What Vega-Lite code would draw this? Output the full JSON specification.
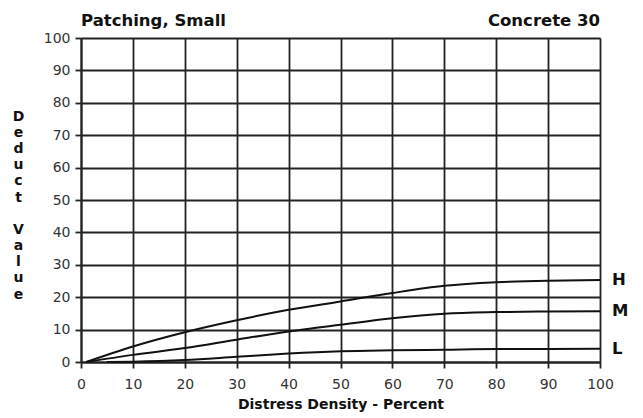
{
  "$schema": "https://vega.github.io/schema/vega-lite/v6.json",
  "width": 519,
  "height": 324,
  "autosize": {"type": "none"},
  "padding": {"left": 81, "top": 38, "right": 43, "bottom": 56},
  "background": "white",
  "config": {
    "view": {"stroke": null},
    "font": "DejaVu Sans",
    "axis": {
      "tickCount": 10,
      "labelFont": "DejaVu Sans", "labelFontSize": 14, "labelColor": "#333",
      "labelOverlap": false, "labelFlush": false,
      "grid": true, "gridColor": "#222", "gridWidth": 1.8, "gridOpacity": 1,
      "domainColor": "#222", "domainWidth": 2,
      "tickColor": "#222", "tickWidth": 1.8, "tickSize": 6,
      "titleFont": "DejaVu Sans", "titleFontSize": 14, "titleFontWeight": "bold", "titleColor": "#111"
    },
    "axisX": {"labelPadding": 9, "titlePadding": 6},
    "axisY": {"labelPadding": 5}
  },
  "datasets": {
    "curves": [
      {"level": "H", "density": 1, "deduct": 0},
      {"level": "H", "density": 10, "deduct": 4.8},
      {"level": "H", "density": 20, "deduct": 9.2},
      {"level": "H", "density": 30, "deduct": 12.9},
      {"level": "H", "density": 40, "deduct": 16.1},
      {"level": "H", "density": 50, "deduct": 18.7},
      {"level": "H", "density": 60, "deduct": 21.3},
      {"level": "H", "density": 70, "deduct": 23.5},
      {"level": "H", "density": 80, "deduct": 24.6},
      {"level": "H", "density": 90, "deduct": 25.1},
      {"level": "H", "density": 100, "deduct": 25.3},
      {"level": "M", "density": 1, "deduct": 0},
      {"level": "M", "density": 10, "deduct": 2.2},
      {"level": "M", "density": 20, "deduct": 4.3},
      {"level": "M", "density": 30, "deduct": 6.9},
      {"level": "M", "density": 40, "deduct": 9.4},
      {"level": "M", "density": 50, "deduct": 11.5},
      {"level": "M", "density": 60, "deduct": 13.5},
      {"level": "M", "density": 70, "deduct": 14.9},
      {"level": "M", "density": 80, "deduct": 15.4},
      {"level": "M", "density": 90, "deduct": 15.6},
      {"level": "M", "density": 100, "deduct": 15.7},
      {"level": "L", "density": 5, "deduct": 0},
      {"level": "L", "density": 10, "deduct": 0.1},
      {"level": "L", "density": 20, "deduct": 0.6},
      {"level": "L", "density": 30, "deduct": 1.6},
      {"level": "L", "density": 40, "deduct": 2.6},
      {"level": "L", "density": 50, "deduct": 3.3},
      {"level": "L", "density": 60, "deduct": 3.6},
      {"level": "L", "density": 70, "deduct": 3.8},
      {"level": "L", "density": 80, "deduct": 4.0},
      {"level": "L", "density": 90, "deduct": 4.0},
      {"level": "L", "density": 100, "deduct": 4.1}
    ],
    "labels": [
      {"level": "H", "density": 100, "deduct": 25.3},
      {"level": "M", "density": 100, "deduct": 15.6},
      {"level": "L", "density": 100, "deduct": 4.0}
    ],
    "headings": [
      {"density": 0, "deduct": 100, "text": "Patching, Small"}
    ],
    "headings2": [
      {"density": 100, "deduct": 100, "text": "Concrete 30"}
    ]
  },
  "layer": [
    {
      "data": {"name": "curves"},
      "mark": {"type": "line", "interpolate": "monotone", "color": "#111", "strokeWidth": 2},
      "encoding": {
        "x": {
          "field": "density", "type": "quantitative",
          "scale": {"domain": [0, 100], "nice": false},
          "axis": {"title": "Distress Density - Percent"}
        },
        "y": {
          "field": "deduct", "type": "quantitative",
          "scale": {"domain": [0, 100], "nice": false},
          "axis": {
            "title": ["D","e","d","u","c","t","\u200b","V","a","l","u","e"],
            "titleAngle": 0, "titleAlign": "center", "titleBaseline": "top",
            "titleX": -63, "titleY": 71, "titleLineHeight": 16.2,
            "titleFontSize": 14
          }
        },
        "detail": {"field": "level"}
      }
    },
    {
      "data": {"name": "labels"},
      "mark": {"type": "text", "align": "left", "baseline": "middle", "dx": 12, "fontSize": 16.5, "fontWeight": "bold", "color": "#111", "font": "DejaVu Sans"},
      "encoding": {
        "x": {"field": "density", "type": "quantitative"},
        "y": {"field": "deduct", "type": "quantitative"},
        "text": {"field": "level"}
      }
    },
    {
      "data": {"name": "headings"},
      "mark": {"type": "text", "align": "left", "baseline": "alphabetic", "dy": -12, "fontSize": 16.5, "fontWeight": "bold", "color": "#111", "font": "DejaVu Sans"},
      "encoding": {
        "x": {"field": "density", "type": "quantitative"},
        "y": {"field": "deduct", "type": "quantitative"},
        "text": {"field": "text"}
      }
    },
    {
      "data": {"name": "headings2"},
      "mark": {"type": "text", "align": "right", "baseline": "alphabetic", "dy": -12, "fontSize": 16.5, "fontWeight": "bold", "color": "#111", "font": "DejaVu Sans"},
      "encoding": {
        "x": {"field": "density", "type": "quantitative"},
        "y": {"field": "deduct", "type": "quantitative"},
        "text": {"field": "text"}
      }
    }
  ]
}
